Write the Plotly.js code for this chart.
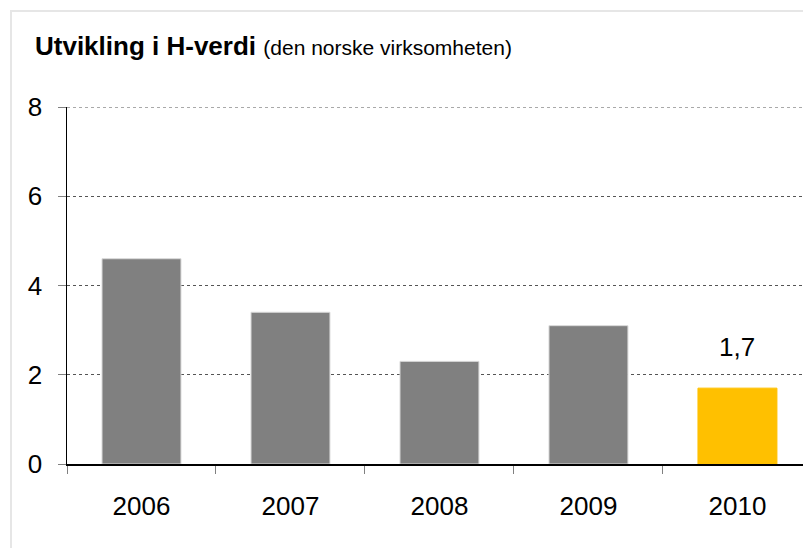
<!DOCTYPE html>
<html>
<head>
<meta charset="utf-8">
<script src="https://cdn.plot.ly/plotly-3.0.1.min.js"></script>
<style>
    body { margin: 0; background: #ffffff; }
    #frame {
        position: absolute; left: 10px; top: 10px; width: 900px; height: 700px;
        border-left: 2px solid #e6e6e6; border-top: 2px solid #e6e6e6;
    }
    #chart { position: absolute; left: 0; top: 0; width: 803px; height: 548px; }
</style>
</head>
<body>
<div id="frame"></div>
<div id="chart"></div>
<script>
// Chart data
const years = ['2006', '2007', '2008', '2009', '2010'];
const hValues = [4.6, 3.4, 2.3, 3.1, 1.7];
const barColors = ['#808080', '#808080', '#808080', '#808080', '#ffc000'];
const barEdges = ['#d9d9d9', '#d9d9d9', '#d9d9d9', '#d9d9d9', '#ffc000'];
const yTicks = [0, 2, 4, 6, 8];

const FontName = '"Liberation Sans", Arial, sans-serif';

var barTrace = {
    x: years,
    y: hValues,
    type: 'bar',
    width: 0.53,
    marker: { color: barColors, line: { color: barEdges, width: 1 } },
    hoverinfo: 'none'
};

// Only the last year gets a value label
const last = years.length - 1;
const yTop = yTicks[yTicks.length - 1];

var layout = {
    width: 803,
    height: 548,
    margin: { l: 67, r: 0, t: 107, b: 84 },
    paper_bgcolor: 'rgba(0,0,0,0)',
    plot_bgcolor: 'rgba(0,0,0,0)',
    font: { family: FontName, color: '#000000', size: 26 },
    showlegend: false,
    title: {
        text: '<b>Utvikling i H-verdi</b> <span style="font-size:21px">(den norske virksomheten)</span>',
        font: { family: FontName, size: 26, color: '#000000' },
        xref: 'container', yref: 'container',
        x: 35 / 803, xanchor: 'left',
        y: 1 - 46 / 548, yanchor: 'middle'
    },
    xaxis: {
        type: 'category',
        range: [-0.5, 4.44],
        showline: true, linecolor: '#000000', linewidth: 1.5,
        ticks: 'outside', tickson: 'boundaries', ticklen: 8, tickcolor: '#808080',
        ticklabelstandoff: 18,
        showgrid: false,
        fixedrange: true
    },
    yaxis: {
        range: [0, yTop],
        tickvals: yTicks,
        showline: true, linecolor: '#000000', linewidth: 1.5,
        ticks: 'outside', ticklen: 8, tickcolor: '#808080',
        ticklabelstandoff: 10,
        showgrid: true, gridcolor: '#555555', gridwidth: 1, griddash: 'dot',
        zeroline: false,
        fixedrange: true
    },
    // top gridline sits on the plot edge, plotly skips it, so draw it here
    shapes: [{
        type: 'line', xref: 'paper', yref: 'y',
        x0: 0, x1: 1, y0: yTop, y1: yTop,
        line: { color: '#555555', width: 1, dash: 'dot' }
    }],
    annotations: [{
        x: last,
        y: hValues[last],
        xref: 'x', yref: 'y',
        text: String(hValues[last]).replace('.', ','),
        showarrow: false,
        yanchor: 'bottom',
        yshift: 24,
        font: { family: FontName, size: 26, color: '#000000' }
    }]
};

Plotly.newPlot('chart', [barTrace], layout, { displayModeBar: false, staticPlot: true });
</script>
</body>
</html>
